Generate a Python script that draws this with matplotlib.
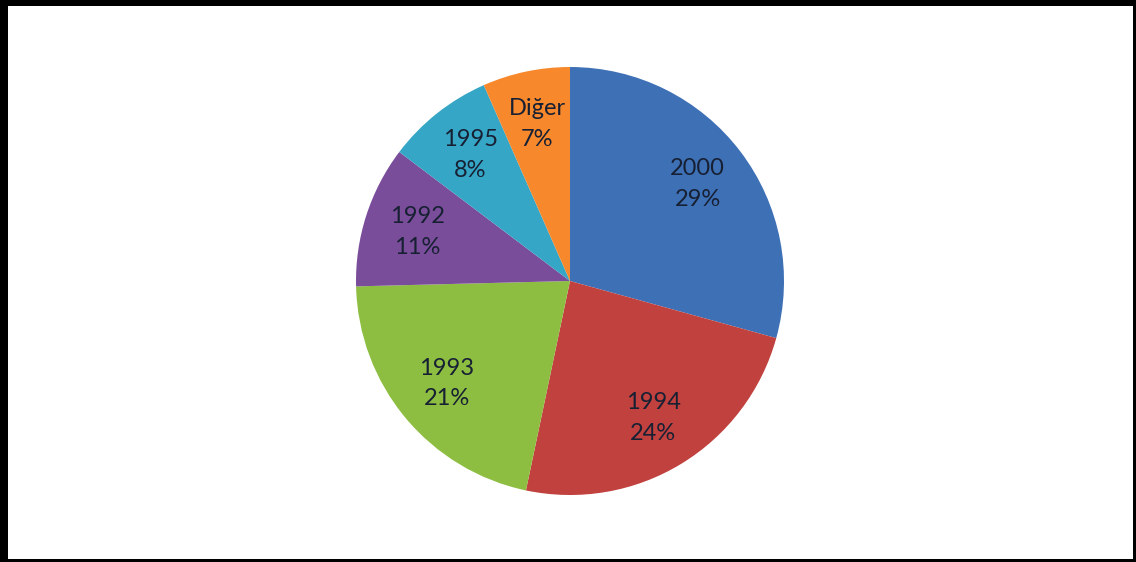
import matplotlib.pyplot as plt
from matplotlib.patches import Rectangle

# pie data (percent shares), clockwise from 12 o'clock
years = ['2000', '1994', '1993', '1992', '1995', 'Diğer']
shares = [29.3, 24.0, 21.3, 10.7, 8.1, 6.6]
colors = ['#3E70B6', '#C0413E', '#8DBE41', '#7A4D9A', '#35A6C6', '#F7882C']

W, H = 1136, 562
fig = plt.figure(figsize=(W / 100, H / 100), dpi=100)
fig.patch.set_facecolor('white')

# pie centre ~ (570, 281) px, radius ~ 214 px
cx, cy, r = 570, 281, 214
ax = fig.add_axes([(cx - r) / W, (H - cy - r) / H, 2 * r / W, 2 * r / H])

labels = [f'{y}\n{round(s)}%' for y, s in zip(years, shares)]
wedges, texts = ax.pie(shares, labels=labels, colors=colors, startangle=90,
                       counterclock=False, radius=1, labeldistance=0.75,
                       wedgeprops=dict(linewidth=0),
                       textprops=dict(ha='center', va='center', fontsize=17,
                                      family='Lato', color='#172033',
                                      linespacing=1.55))
ax.set_xlim(-1, 1)
ax.set_ylim(-1, 1)
ax.set_aspect('equal')
ax.axis('off')

# black frame, thicker on top/left
def px_rect(x, y, w, h):
    fig.add_artist(Rectangle((x / W, 1 - (y + h) / H), w / W, h / H,
                             transform=fig.transFigure, color='black', lw=0))

px_rect(0, 0, W, 6)
px_rect(0, 0, 8, H)
px_rect(W - 3, 0, 3, H)
px_rect(0, H - 3, W, 3)

fig.savefig('out.png', dpi=100)
